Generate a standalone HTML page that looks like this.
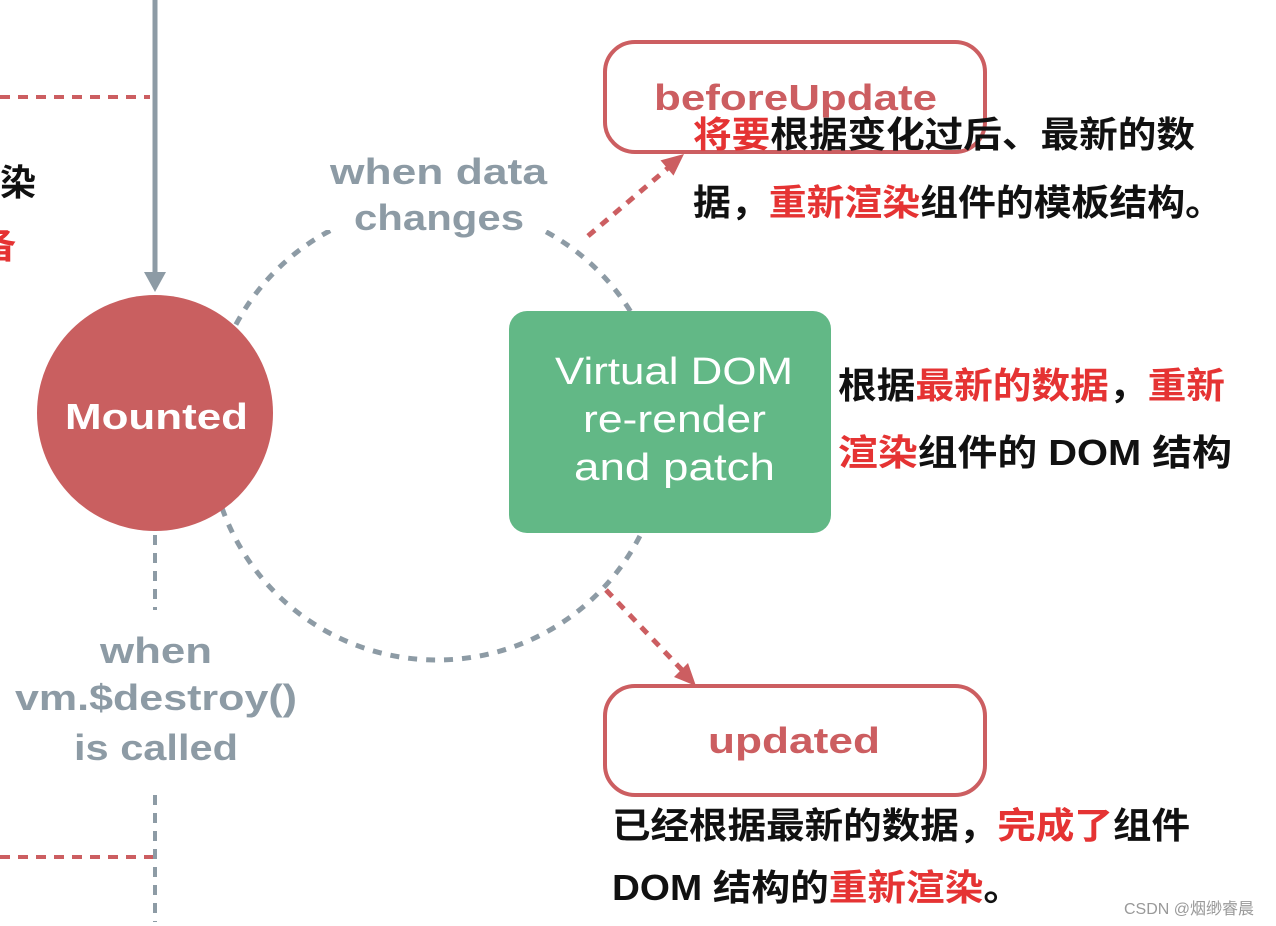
<!DOCTYPE html>
<html><head><meta charset="utf-8"><style>
html,body{margin:0;padding:0;background:#fff;}
svg{display:block;}
</style></head><body>
<svg width="1276" height="926" viewBox="0 0 1276 926" xmlns="http://www.w3.org/2000/svg" font-family="'Liberation Sans','Noto Sans CJK SC',sans-serif">
<rect width="1276" height="926" fill="#fff"/>
<circle cx="437" cy="432" r="228" fill="none" stroke="#8d9ba5" stroke-width="5" stroke-dasharray="9 9"/>
<rect x="325" y="140" width="228" height="90" fill="#fff"/>
<text x="330" y="184" textLength="217" lengthAdjust="spacingAndGlyphs" font-size="36" font-weight="bold" fill="#8d9ba5">when data</text>
<text x="354" y="230" textLength="170" lengthAdjust="spacingAndGlyphs" font-size="36" font-weight="bold" fill="#8d9ba5">changes</text>
<line x1="155" y1="0" x2="155" y2="276" stroke="#8d9ba5" stroke-width="5"/>
<polygon points="144,272 166,272 155,292" fill="#8d9ba5"/>
<line x1="0" y1="97" x2="150" y2="97" stroke="#cc5e61" stroke-width="4" stroke-dasharray="10 8"/>
<line x1="0" y1="857" x2="155" y2="857" stroke="#cc5e61" stroke-width="4" stroke-dasharray="10 8"/>
<line x1="155" y1="535" x2="155" y2="610" stroke="#8d9ba5" stroke-width="4" stroke-dasharray="10 8"/>
<line x1="155" y1="795" x2="155" y2="922" stroke="#8d9ba5" stroke-width="4" stroke-dasharray="10 8"/>
<text x="0" y="195" font-size="36" font-weight="bold" fill="#111">染</text>
<text x="-20" y="258" font-size="36" font-weight="bold" fill="#e53333">备</text>
<circle cx="155" cy="413" r="118" fill="#c95f60"/>
<text x="65" y="429" textLength="183" lengthAdjust="spacingAndGlyphs" font-size="36" font-weight="bold" fill="#fff">Mounted</text>
<text x="100" y="663" textLength="112" lengthAdjust="spacingAndGlyphs" font-size="36" font-weight="bold" fill="#8d9ba5">when</text>
<text x="15" y="710" textLength="282" lengthAdjust="spacingAndGlyphs" font-size="36" font-weight="bold" fill="#8d9ba5">vm.$destroy()</text>
<text x="74" y="760" textLength="164" lengthAdjust="spacingAndGlyphs" font-size="36" font-weight="bold" fill="#8d9ba5">is called</text>
<line x1="588" y1="236" x2="668" y2="168" stroke="#cc5e61" stroke-width="5" stroke-dasharray="9 8"/>
<polygon points="684,154 673.5,175.6 660.5,160.4" fill="#cc5e61"/>
<line x1="606" y1="590" x2="682" y2="670" stroke="#cc5e61" stroke-width="5" stroke-dasharray="9 8"/>
<polygon points="696,686 674,677 688,663" fill="#cc5e61"/>
<rect x="605" y="42" width="380" height="110" rx="30" fill="#fff" stroke="#cc5e61" stroke-width="4"/>
<text x="654" y="110" textLength="283" lengthAdjust="spacingAndGlyphs" font-size="36" font-weight="bold" fill="#cc5e61">beforeUpdate</text>
<text x="693" y="147" textLength="502" lengthAdjust="spacingAndGlyphs" font-size="36" font-weight="bold" fill="#111"><tspan fill="#e53333">将要</tspan>根据变化过后、最新的数</text>
<text x="693" y="215" textLength="530" lengthAdjust="spacingAndGlyphs" font-size="36" font-weight="bold" fill="#111">据，<tspan fill="#e53333">重新渲染</tspan>组件的模板结构。</text>
<rect x="509" y="311" width="322" height="222" rx="18" fill="#62b886"/>
<text x="555" y="384" textLength="238" lengthAdjust="spacingAndGlyphs" font-size="38" fill="#fff">Virtual DOM</text>
<text x="583" y="432" textLength="183" lengthAdjust="spacingAndGlyphs" font-size="38" fill="#fff">re-render</text>
<text x="574" y="480" textLength="201" lengthAdjust="spacingAndGlyphs" font-size="38" fill="#fff">and patch</text>
<text x="838" y="398" textLength="387" lengthAdjust="spacingAndGlyphs" font-size="36" font-weight="bold" fill="#111">根据<tspan fill="#e53333">最新的数据</tspan>，<tspan fill="#e53333">重新</tspan></text>
<text x="838" y="465" textLength="394" lengthAdjust="spacingAndGlyphs" font-size="36" font-weight="bold" fill="#111"><tspan fill="#e53333">渲染</tspan>组件的 DOM 结构</text>
<rect x="605" y="686" width="380" height="109" rx="30" fill="#fff" stroke="#cc5e61" stroke-width="4"/>
<text x="708" y="753" textLength="172" lengthAdjust="spacingAndGlyphs" font-size="36" font-weight="bold" fill="#cc5e61">updated</text>
<text x="612" y="838" textLength="578" lengthAdjust="spacingAndGlyphs" font-size="36" font-weight="bold" fill="#111">已经根据最新的数据，<tspan fill="#e53333">完成了</tspan>组件</text>
<text x="612" y="900" textLength="410" lengthAdjust="spacingAndGlyphs" font-size="36" font-weight="bold" fill="#111">DOM 结构的<tspan fill="#e53333">重新渲染</tspan>。</text>
<text x="1124" y="914" font-size="16" fill="#999">CSDN @烟缈睿晨</text>
</svg>
</body></html>
